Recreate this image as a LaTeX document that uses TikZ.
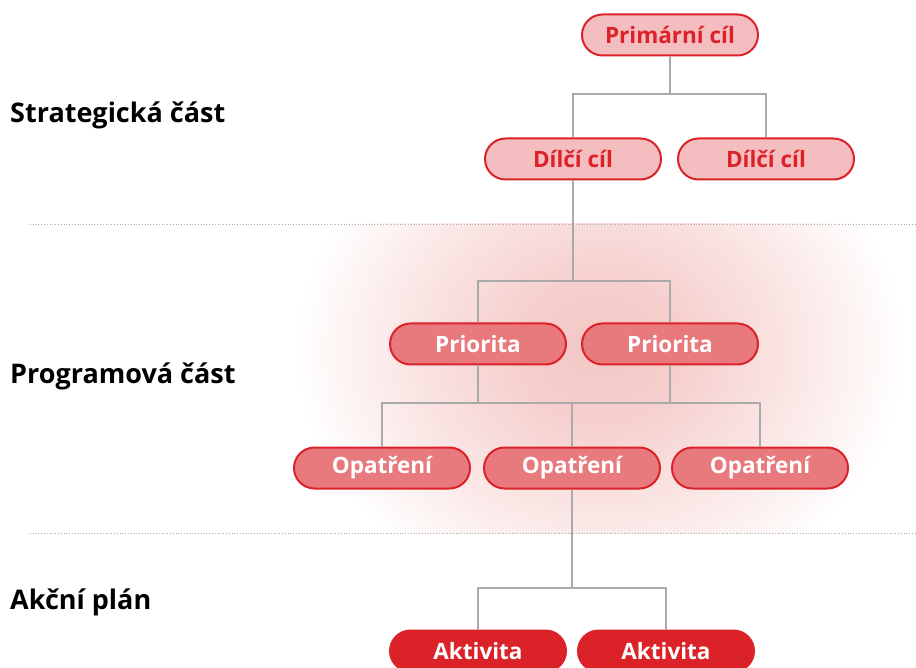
\documentclass[tikz,border=0pt]{standalone}
\usepackage{fontspec}
\setmainfont{Open Sans}
\usetikzlibrary{positioning}
\definecolor{cervena}{HTML}{DC2229}
\definecolor{svetla}{HTML}{F4BEC1}
\definecolor{stredni}{HTML}{E87A7E}
\definecolor{linka}{HTML}{AAAAAA}
\definecolor{zare}{HTML}{F4C8C6}
\pgfdeclareradialshading{zareni}{\pgfpoint{0bp}{0bp}}{color(0bp)=(zare); color(6bp)=(zare!90!white); color(16bp)=(zare!45!white); color(25bp)=(white); color(50bp)=(white)}
\tikzstyle{cil} = [rectangle,draw=cervena,line width=2pt,rounded corners=20.5pt,minimum width=176,minimum height=41,inner sep=0,font=\fontsize{22.5}{26}\selectfont\bfseries]
\tikzstyle{horni}=[cil,fill=svetla,text=cervena]
\tikzstyle{stred}=[cil,fill=stredni,text=white]
\tikzstyle{dolni}=[cil,fill=cervena,text=white]
\tikzstyle{uroven}=[anchor=west,inner sep=0,font=\fontsize{27}{31}\selectfont\bfseries]
\tikzstyle{spoj}=[draw=linka,line width=1.5pt]
\tikzstyle{hranice}=[draw=linka,dotted,line width=0.8pt]

\begin{document}
\begin{tikzpicture}[x=1pt,y=-1pt]
				\useasboundingbox (0,0) rectangle (916,668);
				\begin{scope}
					\clip (0,224) rectangle (916,533);
					\shade[shading=zareni] (600,350) ellipse [x radius=305,y radius=260];
				\end{scope}
				\draw[hranice] (30,224) -- (916,224);
				\draw[hranice] (30,533) -- (916,533);
				\node[uroven](strat) at (10,115){Strategická část};
				\node[uroven](prog) at (10,376){Programová část};
				\node[uroven](akce) at (10,602){Akční plán};
				\node[horni](primar) at (670,35){Primární cíl};
				\node[horni](dilci1) at (573,159){Dílčí cíl};
				\node[horni](dilci2)[right =15pt of dilci1]{Dílčí cíl};
				\node[stred](prior1) at (478,344){Priorita};
				\node[stred](prior2)[right =14pt of prior1]{Priorita};
				\node[stred](opat2) at (572,468){Opatření};
				\node[stred](opat1)[left =12pt of opat2]{Opatření};
				\node[stred](opat3)[right =10pt of opat2]{Opatření};
				\node[dolni](akt1) at (478,651){Aktivita};
				\node[dolni](akt2)[right =10pt of akt1]{Aktivita};
				\coordinate (u1) at (670,94);
				\coordinate (u2) at (573,281);
				\coordinate (u3) at (572,403);
				\coordinate (u4) at (572,588);
				\draw[spoj] (primar) -- (u1) -| (dilci1);
				\draw[spoj] (u1) -| (dilci2);
				\draw[spoj] (dilci1) -- (u2) -| (prior1);
				\draw[spoj] (u2) -| (prior2);
				\draw[spoj] (prior1) |- (u3) -- (opat2);
				\draw[spoj] (prior2) |- (u3);
				\draw[spoj] (u3) -| (opat1);
				\draw[spoj] (u3) -| (opat3);
				\draw[spoj] (opat2) -- (u4) -| (akt1);
				\draw[spoj] (u4) -| (akt2);
			\end{tikzpicture}
\end{document}
